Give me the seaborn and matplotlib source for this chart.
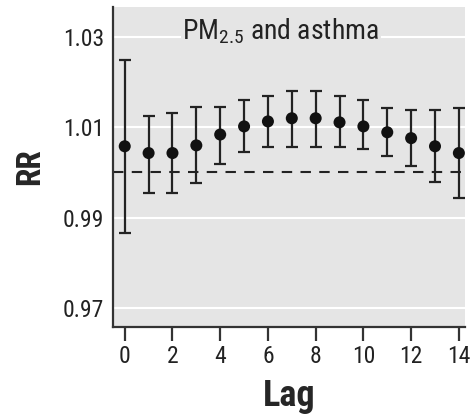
import numpy as np
import pandas as pd
import matplotlib
matplotlib.use('Agg')
import matplotlib.pyplot as plt
import seaborn as sns
from matplotlib import font_manager

# Relative risk of asthma by lag day
lags = list(range(15))
rr = [1.0058, 1.0043, 1.0043, 1.0060, 1.0084, 1.0102, 1.0113, 1.0120,
      1.0120, 1.0111, 1.0102, 1.0089, 1.0076, 1.0058, 1.0043]
rr_upper = [1.0250, 1.0124, 1.0131, 1.0146, 1.0146, 1.0160, 1.0169, 1.0180,
            1.0180, 1.0169, 1.0160, 1.0142, 1.0138, 1.0138, 1.0142]
rr_lower = [0.9867, 0.9954, 0.9954, 0.9976, 1.0018, 1.0045, 1.0056, 1.0056,
            1.0056, 1.0056, 1.0051, 1.0036, 1.0014, 0.9980, 0.9943]
y_ticks = [0.97, 0.99, 1.01, 1.03]
x_ticks = [0, 2, 4, 6, 8, 10, 12, 14]
title = 'PM$_{2.5}$ and asthma'

df = pd.DataFrame({'Lag': lags, 'RR': rr, 'lo': rr_lower, 'hi': rr_upper})

# pick a narrow font if one is around
names = {f.name for f in font_manager.fontManager.ttflist}
fam = 'Liberation Sans'
for cand in ['Liberation Sans Narrow', 'Roboto Condensed', 'Open Sans Condensed']:
    if cand in names:
        fam = cand
        break

sns.set_style('darkgrid', {'axes.facecolor': '#e5e5e5', 'grid.color': 'white'})
plt.rcParams['font.family'] = [fam, 'DejaVu Sans']
plt.rcParams['mathtext.fontset'] = 'custom'
plt.rcParams['mathtext.rm'] = fam

fig = plt.figure(figsize=(4.7, 4.19), dpi=100)
ax = fig.add_axes([0.240, 0.2196, 0.749, 0.7634])

# reference line at RR = 1
ax.axhline(1.0, color='#222222', lw=1.5, dashes=(5, 4), zorder=1)

# confidence intervals
ax.errorbar(df['Lag'], df['RR'],
            yerr=[df['RR'] - df['lo'], df['hi'] - df['RR']],
            fmt='none', ecolor='#222222', elinewidth=1.6, capsize=4.3,
            capthick=1.6, zorder=2)
sns.scatterplot(data=df, x='Lag', y='RR', ax=ax, color='#111111', s=75,
                edgecolor='none', zorder=3)

ax.set_xlim(-0.5, 14.25)
ax.set_ylim(0.9658, 1.0366)
ax.set_xticks(x_ticks)
ax.set_yticks(y_ticks)
ax.set_yticklabels([f'{v:.2f}' for v in y_ticks])
ax.grid(axis='x', visible=False)
ax.grid(axis='y', color='white', lw=1.5)

for side in ['top', 'right']:
    ax.spines[side].set_visible(False)
for side in ['left', 'bottom']:
    ax.spines[side].set_visible(True)
    ax.spines[side].set_color('#333333')
    ax.spines[side].set_linewidth(1.6)

ax.tick_params(axis='x', bottom=True, length=10, width=1.6, color='#333333',
               labelsize=17, pad=3, labelcolor='#222222')
ax.tick_params(axis='y', left=False, labelsize=17, pad=3, labelcolor='#222222')

ax.set_xlabel('Lag', fontsize=26, fontweight='bold', labelpad=7)
ax.set_ylabel('RR', fontsize=24, fontweight='bold', labelpad=12)

ax.text(6.55, 1.0312, title, fontsize=20, ha='center', va='center',
        color='#222222',
        bbox=dict(facecolor='#e5e5e5', edgecolor='none', pad=1))

fig.savefig('out.png', dpi=100)
